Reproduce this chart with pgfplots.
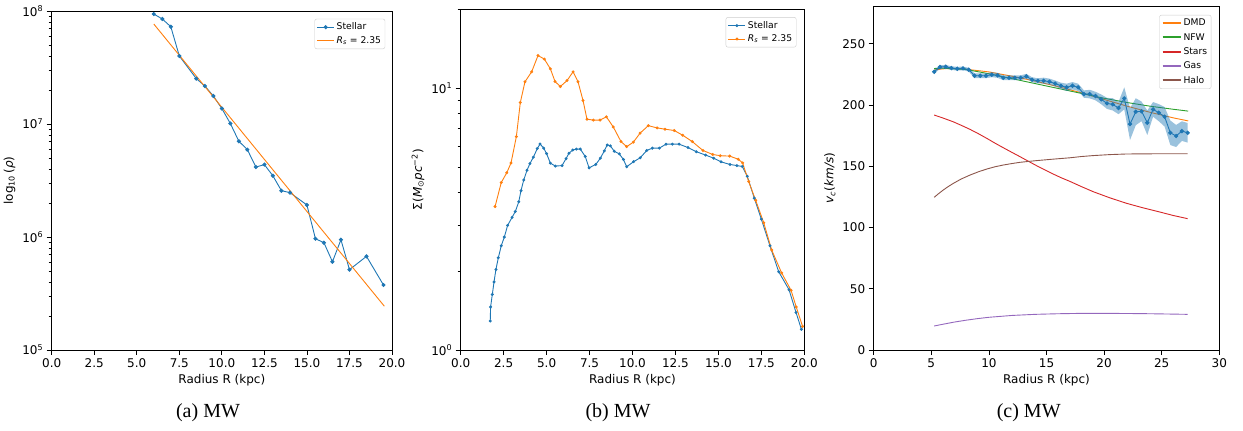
\documentclass[border=0pt]{standalone}
\usepackage{pgfplots}
\usepackage{pgfplotstable}
\pgfplotsset{compat=1.18}
\usepackage{fontspec}
\setmainfont{DejaVu Sans}
\newfontfamily\capfont{Liberation Serif}
\definecolor{mplblue}{HTML}{1F77B4}
\definecolor{mplorange}{HTML}{FF7F0E}
\definecolor{mplgreen}{HTML}{2CA02C}
\definecolor{mplred}{HTML}{D62728}
\definecolor{mplpurple}{HTML}{9467BD}
\definecolor{mplbrown}{HTML}{8C564B}
\pgfplotsset{
  mpl/.style={
    scale only axis, anchor=south west,
    tick align=outside, tick pos=left,
    axis line style={line width=0.9pt},
    major tick length=5pt, minor tick length=3pt,
    major tick style={line width=0.8pt, black},
    minor tick style={line width=0.6pt, black},
    tick label style={font=\fontsize{12}{14}\selectfont},
    label style={font=\fontsize{12}{14}\selectfont},
    /pgf/number format/assume math mode=true,
    scaled ticks=false,
    legend style={font=\fontsize{9.2}{11}\selectfont, draw=black!20, rounded corners=2pt,
      cells={anchor=west}, anchor=north east, inner sep=2pt, row sep=1pt},
  }
}
\pgfplotstableread{
x y
6.0 9.4e7
6.5 8.5e7
7.0 7.26e7
7.5 4.0e7
8.5 2.52e7
9.0 2.17e7
9.5 1.77e7
10.0 1.37e7
10.5 1.01e7
11.0 7.03e6
11.5 5.93e6
12.0 4.16e6
12.5 4.37e6
13.0 3.48e6
13.5 2.57e6
14.0 2.47e6
15.0 1.92e6
15.5 9.66e5
16.0 8.9e5
16.5 6.04e5
17.0 9.46e5
17.5 5.14e5
18.5 6.74e5
19.5 3.76e5
}\densA
\pgfplotstableread{
x y
6.0 7.67e7
19.55 2.44e5
}\fitA
\pgfplotstableread{
x y
1.72 1.29
1.74 1.46
1.84 1.63
1.94 1.82
2.05 2.03
2.19 2.25
2.36 2.50
2.54 2.70
2.73 2.99
2.99 3.21
3.18 3.38
3.38 3.68
3.51 4.06
3.67 4.46
3.86 4.86
4.03 5.15
4.23 5.45
4.46 5.88
4.62 6.12
4.83 5.90
5.00 5.62
5.22 5.17
5.51 5.04
5.90 5.06
6.13 5.38
6.30 5.64
6.52 5.80
6.73 5.85
6.96 5.85
7.25 5.48
7.47 4.96
7.86 5.11
8.13 5.40
8.36 5.76
8.53 6.07
8.71 6.02
8.94 5.74
9.23 5.61
9.47 5.34
9.66 5.01
10.07 5.24
10.45 5.42
10.83 5.78
11.15 5.90
11.56 5.90
11.95 6.11
12.32 6.11
12.71 6.11
13.23 5.93
13.71 5.72
14.26 5.55
14.73 5.40
15.15 5.23
15.68 5.11
16.08 5.06
16.39 5.02
16.68 4.61
17.09 3.80
17.50 3.16
18.00 2.50
18.51 1.99
19.11 1.70
19.52 1.39
19.83 1.20
}\sigStar
\pgfplotstableread{
x y
2.00 3.53
2.36 4.36
2.68 4.75
2.93 5.18
3.24 6.53
3.47 8.81
3.74 10.57
4.13 11.54
4.50 13.32
4.87 12.91
5.22 11.85
5.49 10.60
5.80 10.14
6.19 10.69
6.54 11.54
6.83 10.57
7.12 8.97
7.35 7.61
7.72 7.55
8.11 7.55
8.48 7.77
8.88 7.11
9.33 6.25
9.66 5.98
10.05 6.22
10.44 6.73
10.92 7.19
11.43 7.05
11.89 6.97
12.43 6.89
12.92 6.61
13.48 6.25
14.10 5.78
14.67 5.58
15.11 5.52
15.66 5.50
16.16 5.35
16.41 5.18
16.76 4.40
17.17 3.73
17.64 3.06
18.10 2.41
18.68 1.97
19.23 1.69
19.53 1.46
19.90 1.23
}\sigFit
\pgfplotstableread{
x y
5.25 227.1
5.75 231.0
6.25 231.2
6.75 230.1
7.25 229.6
7.75 229.9
8.25 228.8
8.75 223.9
9.25 223.9
9.75 223.9
10.25 224.7
10.75 224.2
11.25 222.2
11.75 222.2
12.25 222.2
12.75 222.2
13.25 223.4
13.75 220.6
14.25 219.8
14.75 219.8
15.25 219.0
15.75 217.5
16.25 215.7
16.75 214.4
17.25 215.7
17.75 214.4
18.25 208.9
18.75 208.9
19.25 207.3
19.75 204.6
20.25 201.3
20.75 200.5
21.25 197.5
21.75 205.4
22.25 184.4
22.75 194.5
23.25 194.8
23.75 185.5
24.25 196.4
24.75 193.7
25.25 190.4
25.75 177.3
26.25 174.7
26.75 178.7
27.25 177.3
}\vobs
% uncertainty band: upper edge left to right, then lower edge right to left
\pgfplotstableread{
x y
5.25 228.6
5.75 232.5
6.25 232.7
6.75 231.6
7.25 231.1
7.75 231.4
8.25 230.3
8.75 225.9
9.25 225.9
9.75 225.9
10.25 226.7
10.75 226.2
11.25 224.2
11.75 224.2
12.25 224.2
12.75 224.2
13.25 225.4
13.75 222.6
14.25 221.8
14.75 222.3
15.25 221.5
15.75 220.0
16.25 218.2
16.75 217.4
17.25 218.7
17.75 217.4
18.25 211.9
18.75 212.4
19.25 210.8
19.75 208.6
20.25 205.8
20.75 205.5
21.25 202.5
21.75 214.4
22.25 197.4
22.75 205.5
23.25 202.8
23.75 195.5
24.25 202.4
24.75 200.7
25.25 198.4
25.75 187.3
26.25 183.7
26.75 186.7
27.25 185.3
27.25 169.3
26.75 170.7
26.25 165.7
25.75 167.3
25.25 182.4
24.75 186.7
24.25 190.4
23.75 175.5
23.25 186.8
22.75 183.5
22.25 171.4
21.75 196.4
21.25 192.5
20.75 195.5
20.25 196.8
19.75 200.6
19.25 203.8
18.75 205.4
18.25 205.9
17.75 211.4
17.25 212.7
16.75 211.4
16.25 213.2
15.75 215.0
15.25 216.5
14.75 217.3
14.25 217.8
13.75 218.6
13.25 221.4
12.75 220.2
12.25 220.2
11.75 220.2
11.25 220.2
10.75 222.2
10.25 222.7
9.75 221.9
9.25 221.9
8.75 221.9
8.25 227.3
7.75 228.4
7.25 228.1
6.75 228.6
6.25 229.7
5.75 229.5
5.25 225.6
}\vband
\pgfplotstableread{
x y
5.25 228.5
6 229.5
7 229.8
8 229.2
10 227
12 223.5
14 219.5
16 215
18 210
20 204.5
22 199
24 194
26 189.5
27.3 187
}\vdmd
\pgfplotstableread{
x y
5.25 229.8
6 230
8 229
10 225.5
12 221.5
14 217.5
16 213.5
18 209.5
20 205.5
22 202
24 199
26 196.5
27.3 195
}\vnfw
\pgfplotstableread{
x y
5.25 191.8
6.0 189.4
6.9 186.3
7.6 183.4
8.36 180.1
9.1 176.5
9.81 172.8
10.5 169.0
11.25 165.1
12.0 161.3
12.7 157.8
13.4 154.2
14.15 150.4
14.9 146.8
15.59 143.6
16.3 140.5
17.04 137.6
18.0 133.5
19.06 129.2
20.5 124.2
21.96 119.7
23.4 116.0
24.85 112.6
26.0 109.8
27.25 107.2
}\vstars
\pgfplotstableread{
x y
5.25 19.6
6 21
7 22.8
8 24.3
9 25.6
10 26.7
12 28.2
14 29.1
16 29.6
18 29.9
20 29.9
22 29.8
24 29.6
26 29.3
27.25 29.1
}\vgas
\pgfplotstableread{
x y
5.25 124.6
5.6 127.4
6.04 130.6
6.45 133.3
6.91 136.0
7.6 139.6
8.36 142.8
9.1 145.5
9.81 147.7
10.5 149.5
11.25 151.0
12.0 152.2
12.7 153.2
13.4 153.9
14.15 154.6
15.59 155.8
17.04 156.9
18.0 157.9
19.06 158.7
20.5 159.5
21.96 160.0
23.4 160.1
24.85 160.2
27.25 160.2
}\vhalo
\begin{document}
\begin{tikzpicture}
\path[use as bounding box] (0pt,0pt) rectangle (1243pt,431pt);
% (a)
\begin{axis}[mpl, at={(51.7pt,81pt)}, width=340.3pt, height=339pt,
  xmin=0, xmax=20, ymode=log, ymin=1e5, ymax=1e8,
  xtick={0,2.5,...,20},
  xticklabel style={/pgf/number format/.cd, fixed, fixed zerofill, precision=1},
  ytick={1e5,1e6,1e7,1e8},
  yticklabels={10\textsuperscript{5},10\textsuperscript{6},10\textsuperscript{7},10\textsuperscript{8}},
  minor ytick={2e5,3e5,4e5,5e5,6e5,7e5,8e5,9e5,2e6,3e6,4e6,5e6,6e6,7e6,8e6,9e6,2e7,3e7,4e7,5e7,6e7,7e7,8e7,9e7},
  xlabel={Radius R (kpc)},
  ylabel={log\textsubscript{10}\,({\itshape ρ})},
  legend style={at={(0.98,0.977)}},
]
\addplot[mplblue, line width=0.9pt, mark=*, mark size=1.6pt] table {\densA};
\addlegendentry{Stellar}
\addplot[mplorange, line width=0.9pt] table {\fitA};
\addlegendentry{{\itshape R}\textsubscript{\itshape s} = 2.35}
\end{axis}
\node[font=\capfont\fontsize{20}{24}\selectfont] at (208pt,18pt) {(a) MW};
% (b)
\begin{axis}[mpl, at={(460.7pt,81pt)}, width=343.6pt, height=340.7pt,
  xmin=0, xmax=20, ymode=log, ymin=1, ymax=20,
  xtick={0,2.5,...,20},
  xticklabel style={/pgf/number format/.cd, fixed, fixed zerofill, precision=1},
  ytick={1,10},
  yticklabels={10\textsuperscript{0},10\textsuperscript{1}},
  minor ytick={2,3,4,5,6,7,8,9,20},
  xlabel={Radius R (kpc)},
  ylabel={Σ({\itshape M}\textsubscript{⊙}{\itshape pc}\textsuperscript{−2})},
  legend style={at={(0.977,0.977)}},
]
\addplot[mplblue, line width=0.9pt, mark=*, mark size=1.0pt] table {\sigStar};
\addlegendentry{Stellar}
\addplot[mplorange, line width=0.9pt, mark=*, mark size=1.0pt] table {\sigFit};
\addlegendentry{{\itshape R}\textsubscript{\itshape s} = 2.35}
\end{axis}
\node[font=\capfont\fontsize{20}{24}\selectfont] at (618pt,18pt) {(b) MW};
% (c)
\begin{axis}[mpl, at={(873.7pt,81pt)}, width=345.6pt, height=344pt,
  xmin=0, xmax=30, ymin=0, ymax=280.8,
  xtick={0,5,...,30}, ytick={0,50,...,250},
  xlabel={Radius R (kpc)},
  ylabel={{\itshape v}\textsubscript{\itshape c}({\itshape km/s})},
  legend style={at={(0.977,0.974)}, row sep=2pt},
  legend image code/.code={\draw[#1, line width=2pt] (0pt,0pt) -- (18pt,0pt);},
]
\addplot[color=mplorange, line width=0.9pt] table {\vdmd};
\addlegendentry{DMD}
\addplot[color=mplgreen, line width=0.9pt] table {\vnfw};
\addlegendentry{NFW}
\addplot[color=mplred, line width=0.9pt] table {\vstars};
\addlegendentry{Stars}
\addplot[color=mplpurple, line width=0.9pt] table {\vgas};
\addlegendentry{Gas}
\addplot[color=mplbrown, line width=0.9pt] table {\vhalo};
\addlegendentry{Halo}
\addplot[draw=none, fill=mplblue, fill opacity=0.45, forget plot] table {\vband};
\addplot[mplblue, line width=0.9pt, mark=*, mark size=1.7pt, forget plot] table {\vobs};
\end{axis}
\node[font=\capfont\fontsize{20}{24}\selectfont] at (1028.7pt,18pt) {(c) MW};
\end{tikzpicture}
\end{document}
